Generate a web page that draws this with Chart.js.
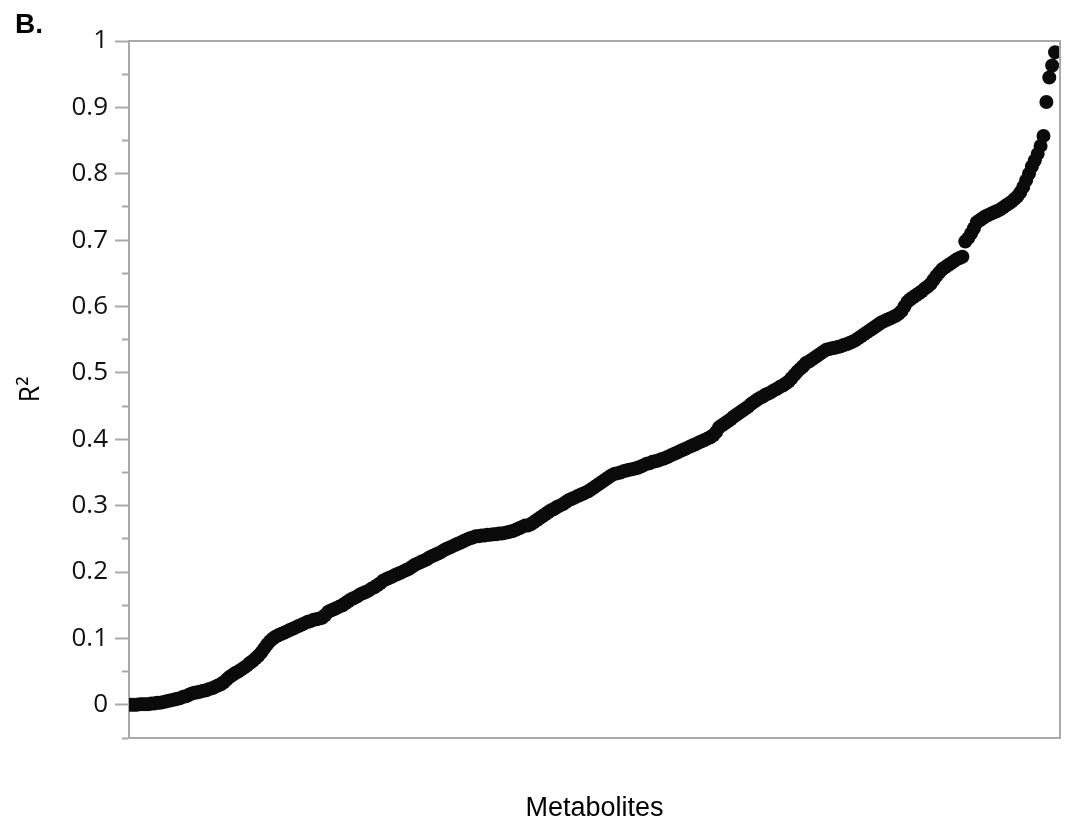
<!DOCTYPE html>
<html>
<head>
<meta charset="utf-8">
<script src="https://cdn.jsdelivr.net/npm/chart.js@4.4.1/dist/chart.umd.min.js"></script>
<style>
  html, body { margin: 0; padding: 0; background: #fff; }
</style>
</head>
<body>
<canvas id="myCanvas" width="1073" height="827"></canvas>
<script>
// panel text
const panelLabel = 'B.';
const xTitle = 'Metabolites';
const yTitle = 'R²';

// y axis: labels at every 0.1, minor ticks halfway
const yTickLabels = ['0', '0.1', '0.2', '0.3', '0.4', '0.5', '0.6', '0.7', '0.8', '0.9', '1'];
const yMin = -0.05;
const yMax = 1;

// R² per metabolite, sorted ascending
const rSquared = [
  0.000, 0.000, 0.000, 0.001, 0.001, 0.001, 0.001, 0.002, 0.002, 0.003,
  0.003, 0.004, 0.005, 0.006, 0.007, 0.008, 0.009, 0.010, 0.012, 0.013,
  0.015, 0.017, 0.018, 0.019, 0.020, 0.021, 0.022, 0.024, 0.025, 0.027,
  0.029, 0.031, 0.034, 0.038, 0.042, 0.045, 0.048, 0.050, 0.053, 0.056,
  0.059, 0.063, 0.066, 0.070, 0.074, 0.079, 0.085, 0.091, 0.096, 0.100,
  0.103, 0.105, 0.107, 0.109, 0.111, 0.113, 0.115, 0.117, 0.119, 0.121,
  0.123, 0.125, 0.126, 0.128, 0.129, 0.130, 0.131, 0.135, 0.140, 0.142,
  0.144, 0.146, 0.148, 0.150, 0.153, 0.156, 0.159, 0.161, 0.163, 0.166,
  0.168, 0.170, 0.172, 0.175, 0.177, 0.180, 0.183, 0.187, 0.189, 0.191,
  0.193, 0.195, 0.197, 0.199, 0.201, 0.203, 0.205, 0.208, 0.211, 0.213,
  0.215, 0.217, 0.219, 0.222, 0.224, 0.226, 0.228, 0.230, 0.233, 0.235,
  0.237, 0.239, 0.241, 0.243, 0.245, 0.247, 0.249, 0.251, 0.252, 0.254,
  0.254, 0.255, 0.255, 0.256, 0.256, 0.257, 0.257, 0.258, 0.258, 0.259,
  0.260, 0.261, 0.262, 0.264, 0.266, 0.268, 0.270, 0.270, 0.272, 0.275,
  0.278, 0.281, 0.284, 0.287, 0.290, 0.293, 0.295, 0.298, 0.300, 0.302,
  0.305, 0.308, 0.310, 0.312, 0.314, 0.316, 0.318, 0.320, 0.322, 0.325,
  0.328, 0.331, 0.334, 0.337, 0.340, 0.343, 0.346, 0.348, 0.349, 0.350,
  0.352, 0.353, 0.354, 0.355, 0.356, 0.357, 0.359, 0.361, 0.363, 0.364,
  0.366, 0.367, 0.368, 0.370, 0.371, 0.373, 0.375, 0.377, 0.379, 0.381,
  0.383, 0.385, 0.387, 0.389, 0.391, 0.393, 0.395, 0.397, 0.399, 0.401,
  0.403, 0.406, 0.411, 0.418, 0.421, 0.424, 0.427, 0.430, 0.434, 0.437,
  0.440, 0.443, 0.446, 0.449, 0.453, 0.456, 0.459, 0.462, 0.464, 0.467,
  0.469, 0.471, 0.474, 0.476, 0.479, 0.481, 0.484, 0.487, 0.492, 0.497,
  0.502, 0.506, 0.510, 0.515, 0.517, 0.520, 0.523, 0.526, 0.529, 0.532,
  0.535, 0.536, 0.537, 0.538, 0.539, 0.540, 0.542, 0.543, 0.545, 0.547,
  0.549, 0.552, 0.555, 0.558, 0.561, 0.564, 0.567, 0.570, 0.573, 0.576,
  0.578, 0.580, 0.582, 0.584, 0.586, 0.589, 0.593, 0.600, 0.607, 0.611,
  0.614, 0.617, 0.620, 0.623, 0.627, 0.630, 0.634, 0.640, 0.646, 0.651,
  0.656, 0.659, 0.662, 0.665, 0.668, 0.671, 0.673, 0.675, 0.698, 0.703,
  0.710, 0.718, 0.727, 0.730, 0.733, 0.736, 0.738, 0.740, 0.742, 0.744,
  0.746, 0.749, 0.752, 0.755, 0.758, 0.762, 0.766, 0.772, 0.780, 0.790,
  0.800, 0.811, 0.820, 0.830, 0.842, 0.857, 0.908, 0.945, 0.963, 0.983
];

const axisGrey = '#a9a9a9';

function isMinor(value) {
  return Math.round(value * 100) % 10 !== 0;
}

// top + right edges of the plot frame, and the panel letter
const framePlugin = {
  id: 'frame',
  afterDraw(chart) {
    const { ctx, chartArea } = chart;
    ctx.save();
    ctx.strokeStyle = axisGrey;
    ctx.lineWidth = 2;
    ctx.beginPath();
    ctx.moveTo(chartArea.left, chartArea.top);
    ctx.lineTo(chartArea.right, chartArea.top);
    ctx.lineTo(chartArea.right, chartArea.bottom);
    ctx.stroke();
    ctx.fillStyle = '#000';
    ctx.font = 'bold 28px "Liberation Sans", Arial, sans-serif';
    ctx.textBaseline = 'alphabetic';
    ctx.fillText(panelLabel, 15, 33);
    ctx.restore();
  }
};

const canvas = document.getElementById('myCanvas');
if (canvas) {
  const ctx = canvas.getContext('2d');
  new Chart(ctx, {
    type: 'scatter',
    data: {
      datasets: [{
        data: rSquared.map((v, i) => ({ x: i, y: v })),
        backgroundColor: '#0b0b0b',
        borderWidth: 0,
        pointRadius: 7,
        pointHoverRadius: 7
      }]
    },
    options: {
      responsive: false,
      animation: false,
      layout: { padding: { top: 41, right: 13, bottom: 0, left: 0 } },
      plugins: {
        legend: { display: false },
        tooltip: { enabled: false }
      },
      scales: {
        x: {
          type: 'linear',
          min: -0.7,
          max: rSquared.length - 1 + 1.7,
          ticks: { display: false },
          grid: { display: true, drawOnChartArea: false, drawTicks: false },
          border: { display: true, color: axisGrey, width: 2 },
          title: {
            display: true,
            text: xTitle,
            color: '#000',
            font: { family: '"Liberation Sans", Arial, sans-serif', size: 27 },
            padding: { top: 0, bottom: 2 }
          },
          afterFit: (scale) => { scale.height = 89; }
        },
        y: {
          min: yMin,
          max: yMax,
          ticks: {
            stepSize: 0.05,
            autoSkip: false,
            padding: 7,
            color: '#111',
            font: { family: '"Open Sans", "Noto Sans", sans-serif', size: 26 },
            callback: (value) => isMinor(value) ? '' : yTickLabels[Math.round(value * 10)]
          },
          grid: {
            drawOnChartArea: false,
            tickLength: 14,
            tickWidth: 2,
            tickColor: axisGrey,
            tickBorderDash: (c) => isMinor(c.tick.value) ? [7, 7] : [],
            tickBorderDashOffset: (c) => isMinor(c.tick.value) ? 7 : 0
          },
          border: { display: true, color: axisGrey, width: 2 },
          title: {
            display: true,
            text: yTitle,
            color: '#000',
            font: { family: '"Open Sans", "Noto Sans", sans-serif', size: 27 },
            padding: { top: 15, bottom: 0 }
          },
          afterFit: (scale) => { scale.width = 129; }
        }
      }
    },
    plugins: [framePlugin]
  });
} else {
  console.error('Canvas element not found.');
}
</script>
</body>
</html>
